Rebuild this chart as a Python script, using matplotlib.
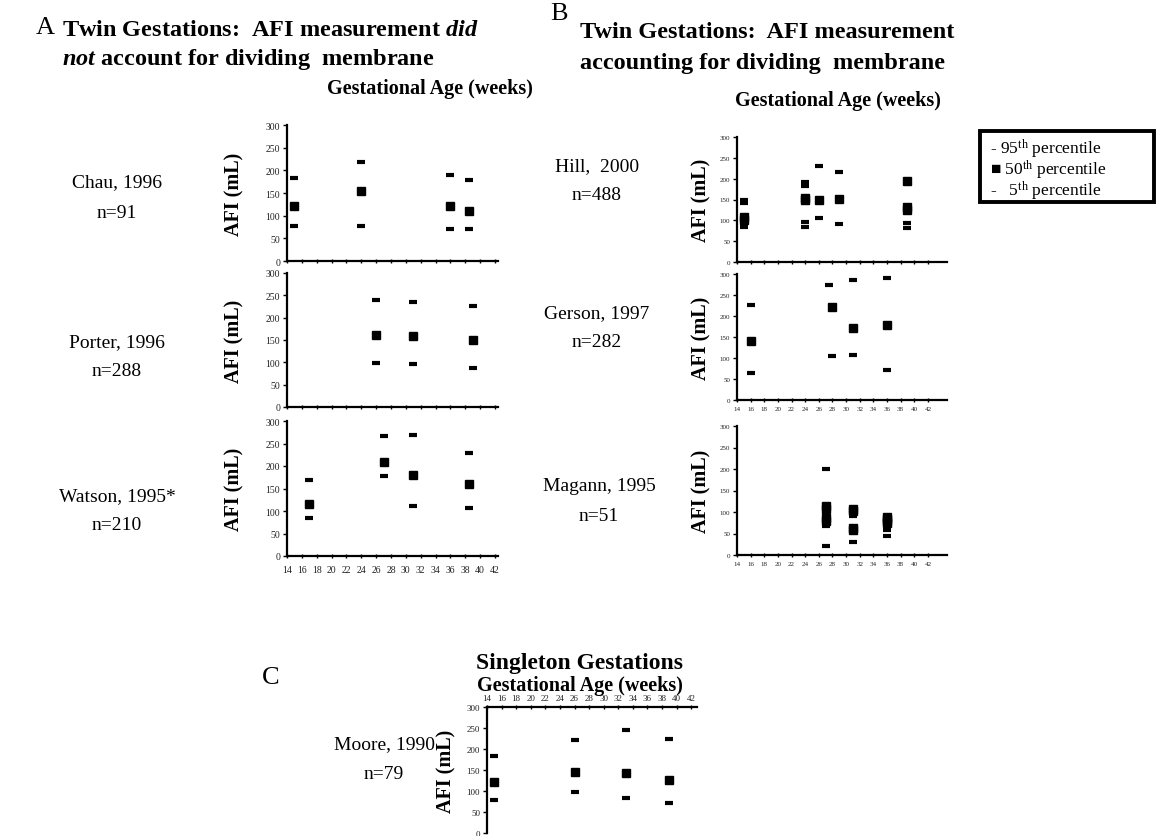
import matplotlib
matplotlib.use("Agg")
import matplotlib.pyplot as plt
from matplotlib.patches import Rectangle

plt.rcParams['font.family'] = ['Liberation Serif', 'DejaVu Serif']
plt.rcParams['mathtext.fontset'] = 'custom'
plt.rcParams['mathtext.rm'] = 'Liberation Serif'
plt.rcParams['mathtext.it'] = 'Liberation Serif:italic:bold'
plt.rcParams['mathtext.bf'] = 'Liberation Serif:bold'

W, H = 1158, 837

# ---------------- data (weeks, AFI mL)
week_ticks = list(range(14, 44, 2))
afi_ticks = [0, 50, 100, 150, 200, 250, 300]

# panel A
chau_wk = [15, 24, 36, 38.5]
chau_p95 = [184, 219, 189, 179]
chau_p50 = [121, 155, 121, 110]
chau_p5 = [77, 77, 71, 71]

porter_wk = [26, 31, 39]
porter_p95 = [239, 236, 227]
porter_p50 = [161, 159, 149]
porter_p5 = [99, 96, 88]

watson_wk = [17, 27, 31, 38.5]
watson_p95 = [169, 266, 270, 228]
watson_p50 = [116, 209, 181, 159]
watson_p5 = [84, 178, 112, 106]

# panel B
hill_p95_wk = [15, 15, 24, 24, 26, 29]
hill_p95 = [150, 142, 192, 183, 230, 216]
hill_p50_wk = [15, 15, 24, 24, 26, 29, 39, 39, 39]
hill_p50 = [108, 101, 154, 150, 150, 151, 194, 131, 124]
hill_p5_wk = [15, 24, 24, 26, 29, 39, 39]
hill_p5 = [84, 97, 84, 105, 92, 93, 82]

gerson_p95_wk = [16, 27.5, 31, 36]
gerson_p95 = [227, 274, 286, 290]
gerson_p50_wk = [16, 28, 31, 36]
gerson_p50 = [141, 222, 171, 179]
gerson_p5_wk = [16, 28, 31, 36]
gerson_p5 = [64, 104, 107, 72]

magann_p95_wk = [27, 27, 31]
magann_p95 = [200, 97, 90]
magann_p50_wk = [27, 27, 27, 27, 31, 31, 31, 31, 36, 36, 36, 36]
magann_p50 = [113, 107, 86, 80, 108, 103, 62, 57, 88, 83, 78, 74]
magann_p5_wk = [27, 27, 31, 36, 36]
magann_p5 = [68, 22, 31, 59, 44]

# panel C
moore_wk = [15, 26, 33, 39]
moore_p95 = [184, 222, 245, 225]
moore_p50 = [122, 146, 142, 126]
moore_p5 = [78, 97, 83, 72]

fig = plt.figure(figsize=(W / 100, H / 100), dpi=100)


def px_axes(left, top, right, bottom):
    return fig.add_axes([left / W, 1 - bottom / H, (right - left) / W, (bottom - top) / H])


def style(ax, xmax, xlabels, top=False, fs=7, lpad=15):
    ax.set_xlim(14, xmax)
    ax.set_ylim(0, 300)
    for s in ['right', 'bottom' if top else 'top']:
        ax.spines[s].set_visible(False)
    for s in ['left', 'top' if top else 'bottom']:
        ax.spines[s].set_linewidth(1.6)
    ax.set_yticks(afi_ticks)
    ax.set_xticks(week_ticks)
    ax.tick_params(axis='y', length=3, width=1, labelsize=fs, pad=2, labelcolor='#222222')
    ax.tick_params(axis='x', length=3, width=1, labelsize=fs, pad=3, direction='inout',
                   labelcolor='#222222')
    if top:
        ax.xaxis.tick_top()
    if not xlabels:
        ax.set_xticklabels([])
    ax.set_ylabel('AFI (mL)', fontsize=14.5, fontweight='bold', labelpad=lpad)
    ax.patch.set_alpha(0)


def pts(ax, wk95, v95, wk50, v50, wk5, v5, ms=6):
    ax.plot(wk95, v95, ls='none', marker='_', ms=ms, mew=3, color='black', clip_on=False)
    ax.plot(wk50, v50, ls='none', marker='s', ms=ms, color='black', clip_on=False)
    ax.plot(wk5, v5, ls='none', marker='_', ms=ms, mew=3, color='black', clip_on=False)


# ---------------- panel A
ax = px_axes(287, 126, 498, 262)
style(ax, 42.4, False)
pts(ax, chau_wk, chau_p95, chau_wk, chau_p50, chau_wk, chau_p5)

ax = px_axes(287, 274, 498, 408)
style(ax, 42.4, False)
pts(ax, porter_wk, porter_p95, porter_wk, porter_p50, porter_wk, porter_p5)

ax = px_axes(287, 422, 498, 557)
style(ax, 42.4, True)
ax.tick_params(axis='x', pad=5)
pts(ax, watson_wk, watson_p95, watson_wk, watson_p50, watson_wk, watson_p5)

# ---------------- panel B
ax = px_axes(737, 138, 947, 263)
style(ax, 44.8, False, fs=5, lpad=6)
pts(ax, hill_p95_wk, hill_p95, hill_p50_wk, hill_p50, hill_p5_wk, hill_p5, ms=5.5)

ax = px_axes(737, 275, 947, 401)
style(ax, 44.8, True, fs=5, lpad=6)
pts(ax, gerson_p95_wk, gerson_p95, gerson_p50_wk, gerson_p50, gerson_p5_wk, gerson_p5, ms=5.5)

ax = px_axes(737, 427, 947, 556)
style(ax, 44.8, True, fs=5, lpad=6)
pts(ax, magann_p95_wk, magann_p95, magann_p50_wk, magann_p50, magann_p5_wk, magann_p5, ms=5.5)

# ---------------- panel C
ax = px_axes(487, 708, 697, 834)
style(ax, 42.8, True, top=True, fs=6.5, lpad=7)
ax.tick_params(axis='x', pad=2)
pts(ax, moore_wk, moore_p95, moore_wk, moore_p50, moore_wk, moore_p5, ms=5.5)

# ---------------- texts
def t(x, y, s, **kw):
    kw.setdefault('ha', 'center')
    kw.setdefault('va', 'center')
    fig.text(x / W, 1 - y / H, s, **kw)

t(36, 28, 'A', fontsize=19, ha='left')
t(62, 30, r'Twin Gestations:  AFI measurement $\mathit{did}$', fontsize=17.5, fontweight='bold', ha='left')
t(62, 59, r'$\mathit{not}$ account for dividing  membrane', fontsize=17.5, fontweight='bold', ha='left')
t(430, 89, 'Gestational Age (weeks)', fontsize=14.5, fontweight='bold')

t(550, 14, 'B', fontsize=19, ha='left')
t(580, 33, 'Twin Gestations:  AFI measurement', fontsize=17.5, fontweight='bold', ha='left')
t(580, 63, 'accounting for dividing  membrane', fontsize=17.5, fontweight='bold', ha='left')
t(838, 101, 'Gestational Age (weeks)', fontsize=14.5, fontweight='bold')

t(262, 678, 'C', fontsize=19, ha='left')
t(580, 664, 'Singleton Gestations', fontsize=17, fontweight='bold')
t(580, 686, 'Gestational Age (weeks)', fontsize=14.5, fontweight='bold')

study_labels = [
    (117, 183, 'Chau, 1996'), (117, 213, 'n=91'),
    (117, 343, 'Porter, 1996'), (117, 372, 'n=288'),
    (117, 497, 'Watson, 1995*'), (117, 526, 'n=210'),
    (597, 167, 'Hill,  2000'), (597, 196, 'n=488'),
    (597, 314, 'Gerson, 1997'), (597, 343, 'n=282'),
    (599, 487, 'Magann, 1995'), (599, 517, 'n=51'),
    (384, 745, 'Moore, 1990'), (384, 775, 'n=79'),
]
for x, y, s in study_labels:
    t(x, y, s, fontsize=14)

# legend box
fig.add_artist(Rectangle((980 / W, 1 - 203 / H), (1154 - 980) / W, (203 - 132) / H,
                         transform=fig.transFigure, fill=False, lw=2.8, ec='black'))
t(990, 149, r'- 95$^{\rm th}$ percentile', fontsize=12.5, ha='left')
t(990, 170, r'$\blacksquare$ 50$^{\rm th}$ percentile', fontsize=12.5, ha='left')
t(990, 191, r'-   5$^{\rm th}$ percentile', fontsize=12.5, ha='left')

fig.savefig('out.png', dpi=100)
